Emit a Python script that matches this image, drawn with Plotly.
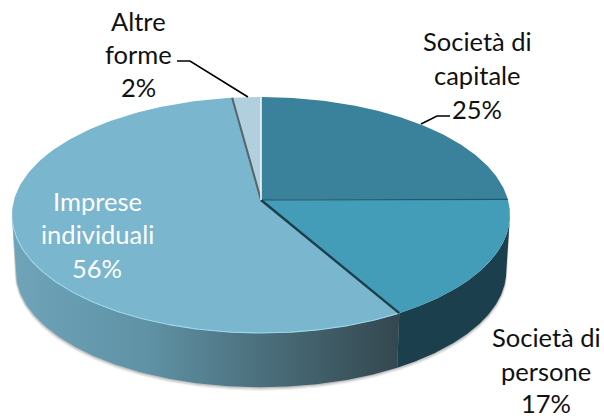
import numpy as np
import plotly.graph_objects as go

categories = ["Società di capitale", "Società di persone", "Imprese individuali", "Altre forme"]
values = [24.9, 16.8, 56.2, 2.1]
top_colors = ["#3A829C", "#449DB8", "#7AB6CE", "#B1CFDC"]
edge_colors = ["#24566A", "#1B3F4C", "#56646C", "#F2F7F9"]

W, H = 604, 418
CX, CY, RX, RY = 261, 215, 249, 118
TILT = -0.127       # perspective shift of the pie centre
DEPTH = 56
BOTTOM_SCALE = 0.985


def project(deg, dy=0.0, scale=1.0, radius=1.0):
    a = np.radians(np.asarray(deg, dtype=float))
    u, v = radius * np.sin(a), -radius * np.cos(a)
    d = 1 + TILT * v
    px = u * np.sqrt(1 - TILT ** 2) / d
    py = (v + TILT) / d
    return CX + RX * scale * px, CY + RY * scale * py + dy, py


shares = np.array(values, dtype=float) / sum(values) * 360
starts = np.concatenate([[0], np.cumsum(shares)[:-1]])
ends = starts + shares

fig = go.Figure()


def poly(x, y, **kw):
    kw.setdefault("line", dict(width=0))
    fig.add_trace(go.Scatter(x=x, y=y, mode="lines", fill="toself", hoverinfo="skip", showlegend=False, **kw))


def wall(a0, a1, scale=BOTTOM_SCALE, depth=DEPTH):
    t = np.linspace(a0, a1, 300)
    xt, yt, pt = project(t)
    keep = pt >= 0
    xb, yb, _ = project(t, dy=depth, scale=scale)
    return (np.concatenate([xt[keep], xb[keep][::-1]]), np.concatenate([yt[keep], yb[keep][::-1]]))


# soft shadow under the wall
for grow, alpha in [(3.0, 0.10), (2.0, 0.14), (1.0, 0.2)]:
    x, y = wall(90, 352.8, depth=DEPTH + grow, scale=BOTTOM_SCALE + 0.004 * grow / 3)
    poly(x, y, fillcolor=f"rgba(90,90,90,{alpha})")

# side walls
x, y = wall(starts[2], ends[2])
poly(x, y, fillcolor="#5C8C9E", fillgradient=dict(
    type="horizontal",
    colorscale=[[0, "#6FA4B9"], [0.35, "#5F92A5"], [0.72, "#466672"], [1, "#33474F"]],
))
x, y = wall(starts[1], ends[1])
poly(x, y, fillcolor="#1B3F4C")

# top faces
ax, ay, _ = project(0, radius=0)
for i in range(len(values)):
    t = np.linspace(starts[i], ends[i], 160)
    xt, yt, _ = project(t)
    poly(np.concatenate([[ax], xt, [ax]]), np.concatenate([[ay], yt, [ay]]), fillcolor=top_colors[i])

# rim highlight on the large slice
t = np.linspace(starts[2], ends[2], 300)
xt, yt, pt = project(t)
fig.add_trace(go.Scatter(x=xt[pt >= 0.02], y=yt[pt >= 0.02], mode="lines", hoverinfo="skip", showlegend=False,
                         line=dict(color="#98D8EC", width=1.1)))

# separators
for i, w in enumerate([1.2, 2.4, 2.0, 1.6]):
    ex, ey, _ = project(ends[i])
    fig.add_trace(go.Scatter(x=[ax, ex], y=[ay, ey], mode="lines", hoverinfo="skip", showlegend=False,
                             line=dict(color=edge_colors[i], width=w)))

# leader lines
for lx, ly in [([177, 190, 248], [61, 61, 97]), ([450, 437, 421], [116, 116, 124])]:
    fig.add_trace(go.Scatter(x=lx, y=ly, mode="lines", hoverinfo="skip", showlegend=False,
                             line=dict(color="#000000", width=1.6)))

labels = [
    (477, [41, 75, 109], ["Società di", "capitale", f"{round(values[0])}%"], "#111111"),
    (546, [337, 371, 403], ["Società di", "persone", f"{round(values[1])}%"], "#111111"),
    (97, [201, 234, 268], ["Imprese", "individuali", f"{round(values[2])}%"], "#FFFFFF"),
    (138, [21, 54, 87], ["Altre", "forme", f"{round(values[3])}%"], "#111111"),
]
for lx, ys, lines, col in labels:
    for ly, s in zip(ys, lines):
        fig.add_annotation(x=lx, y=ly, text=s, showarrow=False, xanchor="center", yanchor="middle", borderpad=0,
                           font=dict(family="Lato", size=25.5, color=col))

fig.update_layout(
    width=W, height=H, margin=dict(l=0, r=0, t=0, b=0),
    paper_bgcolor="white", plot_bgcolor="white", showlegend=False,
    xaxis=dict(range=[0, W], visible=False, fixedrange=True),
    yaxis=dict(range=[H, 0], visible=False, fixedrange=True),
)
fig.write_html("out.html", config={"displayModeBar": False},
               post_script="document.body.style.margin='0';document.documentElement.style.overflow='hidden';")
